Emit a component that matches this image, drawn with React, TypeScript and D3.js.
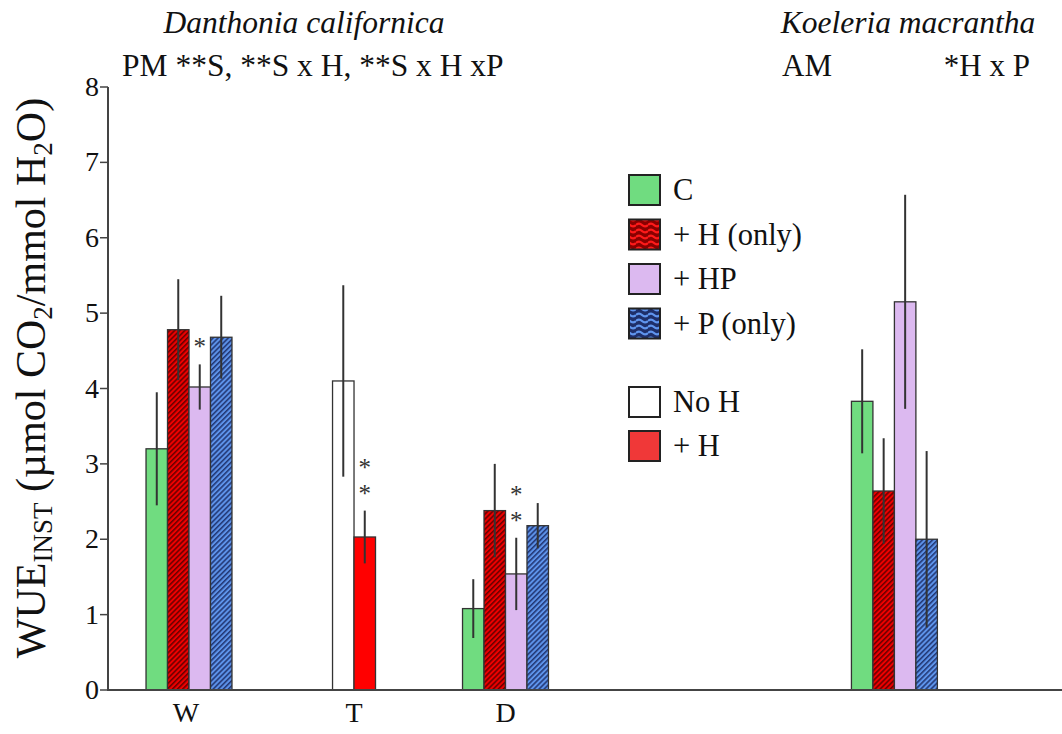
import React from "react";
import * as d3 from "d3";

// ---------- data ----------
const fourSeries = ["C", "+ H (only)", "+ HP", "+ P (only)"];
const twoSeries = ["No H", "+ H"];

const wValues = [3.2, 4.78, 4.02, 4.68];
const wErrors = [0.75, 0.67, 0.3, 0.55];
const tValues = [4.1, 2.03];
const tErrors = [1.27, 0.35];
const dValues = [1.08, 2.38, 1.54, 2.18];
const dErrors = [0.39, 0.62, 0.48, 0.3];
const kValues = [3.83, 2.64, 5.15, 2.0];
const kErrors = [0.69, 0.7, 1.42, 1.17];

const groupLabels = ["W", "T", "D", ""];
const yTicks = [0, 1, 2, 3, 4, 5, 6, 7, 8];

// significance stars: group index, bar index, count
const starGroups = [0, 1, 2];
const starBars = [2, 1, 2];
const starCounts = [1, 2, 2];

const legendLabels = ["C", "+ H (only)", "+ HP", "+ P (only)", "No H", "+ H"];

// ---------- layout / style ----------
const W = 1062;
const H = 734;
const plotLeft = 108;
const plotRight = 1062;
const plotTop = 87;
const plotBottom = 690;
const barUnits = 44.4; // plot width in bar-width units
const groupCentersUnits = [3.77, 11.45, 18.5, 36.6];

const FONT = "'Liberation Serif', 'Times New Roman', serif";
const fillFor: Record<string, string> = {
  "C": "#70dc80",
  "+ H (only)": "url(#hatchRed)",
  "+ HP": "#dcb9f0",
  "+ P (only)": "url(#hatchBlue)",
  "No H": "#ffffff",
  "+ H": "#ff0000",
};
const legendFill: Record<string, string> = {
  "C": "#70dc80",
  "+ H (only)": "url(#waveRed)",
  "+ HP": "#dcb9f0",
  "+ P (only)": "url(#waveBlue)",
  "No H": "#ffffff",
  "+ H": "#f03838",
};

export default function App() {
  const y = d3.scaleLinear().domain([0, 8]).range([plotBottom, plotTop]);
  const x = d3.scaleLinear().domain([0, barUnits]).range([plotLeft, plotRight]);
  const bw = x(1) - x(0);

  const groups = [
    { series: fourSeries, values: wValues, errors: wErrors },
    { series: twoSeries, values: tValues, errors: tErrors },
    { series: fourSeries, values: dValues, errors: dErrors },
    { series: fourSeries, values: kValues, errors: kErrors },
  ];

  const barX = (g: number, i: number) => {
    const n = groups[g].series.length;
    return x(groupCentersUnits[g]) - (n / 2) * bw + i * bw;
  };

  const legendTop = [175, 219.5, 264, 308.5, 387, 431];
  const starSize = 25;
  const starGap = 26;

  return (
    <svg
      width={W}
      height={H}
      style={{ position: "absolute", left: 0, top: 0, background: "#fff" }}
      fontFamily={FONT}
    >
      <defs>
        <pattern id="hatchRed" patternUnits="userSpaceOnUse" width={3.6} height={3.6} patternTransform="rotate(45)">
          <rect width={3.6} height={3.6} fill="#ee0000" />
          <line x1={0.8} y1={0} x2={0.8} y2={3.6} stroke="#5a0000" strokeWidth={1.4} />
        </pattern>
        <pattern id="hatchBlue" patternUnits="userSpaceOnUse" width={3.6} height={3.6} patternTransform="rotate(45)">
          <rect width={3.6} height={3.6} fill="#5d93ea" />
          <line x1={0.8} y1={0} x2={0.8} y2={3.6} stroke="#1b2c66" strokeWidth={1.4} />
        </pattern>
        <pattern id="waveRed" patternUnits="userSpaceOnUse" width={12} height={6}>
          <rect width={12} height={6} fill="#8a0000" />
          <path d="M0,3 Q3,0 6,3 T12,3" fill="none" stroke="#ff1a1a" strokeWidth={2.2} />
        </pattern>
        <pattern id="waveBlue" patternUnits="userSpaceOnUse" width={12} height={6}>
          <rect width={12} height={6} fill="#1e2f6a" />
          <path d="M0,3 Q3,0 6,3 T12,3" fill="none" stroke="#5f95ee" strokeWidth={2.2} />
        </pattern>
      </defs>

      {/* bars */}
      {groups.map((grp, g) =>
        grp.values.map((v, i) => {
          const bx = barX(g, i);
          const key = grp.series[i];
          return (
            <rect
              key={`b${g}-${i}`}
              x={bx}
              y={y(v)}
              width={bw}
              height={y(0) - y(v)}
              fill={fillFor[key]}
              stroke="#333"
              strokeWidth={1.3}
            />
          );
        })
      )}

      {/* error bars */}
      {groups.map((grp, g) =>
        grp.values.map((v, i) => {
          const cx = barX(g, i) + bw / 2;
          const e = grp.errors[i];
          return (
            <line
              key={`e${g}-${i}`}
              x1={cx}
              x2={cx}
              y1={y(v + e)}
              y2={y(v - e)}
              stroke="#333"
              strokeWidth={2}
            />
          );
        })
      )}

      {/* stars */}
      {starGroups.map((g, k) => {
        const i = starBars[k];
        const cx = barX(g, i) + bw / 2;
        const top = y(groups[g].values[i] + groups[g].errors[i]);
        return d3.range(starCounts[k]).map((j) => (
          <text
            key={`s${k}-${j}`}
            x={cx}
            y={top - 21 - j * starGap + 12}
            textAnchor="middle"
            fontSize={starSize}
            fill="#333"
          >
            *
          </text>
        ));
      })}

      {/* axes */}
      <line x1={plotLeft - 1} x2={plotRight} y1={y(0)} y2={y(0)} stroke="#444" strokeWidth={2} />
      <line x1={plotLeft} x2={plotLeft} y1={y(0)} y2={y(8)} stroke="#444" strokeWidth={2} />
      {yTicks.map((t) => (
        <g key={`t${t}`}>
          <line x1={plotLeft - 8} x2={plotLeft} y1={y(t)} y2={y(t)} stroke="#444" strokeWidth={1.5} />
          <text x={plotLeft - 9} y={y(t) + 9} textAnchor="end" fontSize={28} fill="#111">
            {t}
          </text>
        </g>
      ))}
      {groupLabels.map((l, g) => (
        <text key={`gl${g}`} x={x(groupCentersUnits[g]) - (g === 0 ? 3 : 0)} y={722} textAnchor="middle" fontSize={28} fill="#111">
          {l}
        </text>
      ))}

      {/* y axis title */}
      <text transform="translate(45,378) rotate(-90)" textAnchor="middle" fontSize={42} fill="#111">
        WUE
        <tspan fontSize={27} dy={7}>INST</tspan>
        <tspan fontSize={42} dy={-7}> (µmol CO</tspan>
        <tspan fontSize={27} dy={7}>2</tspan>
        <tspan fontSize={42} dy={-7}>/mmol H</tspan>
        <tspan fontSize={27} dy={7}>2</tspan>
        <tspan fontSize={42} dy={-7}>O)</tspan>
      </text>

      {/* titles */}
      <text x={304} y={33} textAnchor="middle" fontSize={31.5} fontStyle="italic" fill="#111">
        Danthonia californica
      </text>
      <text x={122} y={76} fontSize={31.5} fill="#111">
        PM **S, **S x H, **S x H xP
      </text>
      <text x={908} y={33} textAnchor="middle" fontSize={31.5} fontStyle="italic" fill="#111">
        Koeleria macrantha
      </text>
      <text x={782} y={76} fontSize={31} fill="#111">AM</text>
      <text x={1030} y={76} textAnchor="end" fontSize={31} fill="#111">*H x P</text>

      {/* legend */}
      {legendLabels.map((l, i) => (
        <g key={`lg${i}`}>
          <rect x={629} y={legendTop[i]} width={31} height={30} fill={legendFill[l]} stroke="#222" strokeWidth={2} />
          <text x={673} y={legendTop[i] + 25} fontSize={30.5} fill="#111">
            {l}
          </text>
        </g>
      ))}
    </svg>
  );
}
